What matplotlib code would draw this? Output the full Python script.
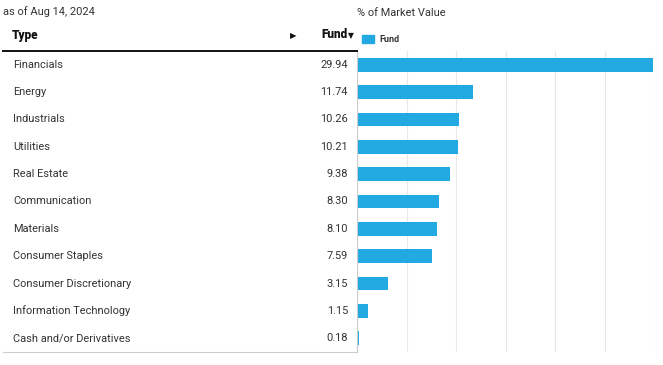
import matplotlib.pyplot as plt
from matplotlib.transforms import blended_transform_factory
from matplotlib.lines import Line2D

# ------------------------------
# Data
# ------------------------------
sectors = ['Financials', 'Energy', 'Industrials', 'Utilities', 'Real Estate',
           'Communication', 'Materials', 'Consumer Staples',
           'Consumer Discretionary', 'Information Technology',
           'Cash and/or Derivatives']
fund = [29.94, 11.74, 10.26, 10.21, 9.38, 8.30, 8.10, 7.59, 3.15, 1.15, 0.18]
xticks = [0, 5, 10, 15, 20, 25, 30]

bar_color = '#22a9e1'
text_color = '#333333'
plt.rcParams['font.family'] = ['Roboto', 'DejaVu Sans']

W, H = 663, 365
fig = plt.figure(figsize=(W / 100, H / 100), dpi=100)

# bar axis placed where the chart sits in the reference
ax = fig.add_axes([357 / W, 13 / H, 297 / W, 301 / H])
ypos = list(range(len(sectors)))
ax.barh(ypos, fund, height=0.5, color=bar_color, zorder=2)
ax.set_xlim(0, 30)
ax.set_ylim(len(sectors) - 0.5, -0.5)
ax.set_xticks(xticks)
ax.set_yticks([])
ax.tick_params(axis='x', length=0, labelbottom=False)
ax.grid(axis='x', color='#e8e8e8', linewidth=0.8, zorder=0)
for s in ['top', 'right', 'bottom']:
    ax.spines[s].set_visible(False)
ax.spines['left'].set_color('#cccccc')
ax.spines['left'].set_linewidth(0.8)

# ------------------------------
# Table text on the left
# ------------------------------
trans = blended_transform_factory(fig.transFigure, ax.transData)
for i, (name, val) in enumerate(zip(sectors, fund)):
    ax.text(13 / W, i, name, transform=trans, ha='left', va='center',
            fontsize=7.9, color=text_color, clip_on=False)
    ax.text(348 / W, i, f'{val:.2f}', transform=trans, ha='right', va='center',
            fontsize=7.9, color=text_color, clip_on=False)

# header
fig.text(3 / W, 1 - 12 / H, 'as of Aug 14, 2024', ha='left', va='center',
         fontsize=7.9, color=text_color)
fig.text(357 / W, 1 - 13 / H, '% of Market Value', ha='left', va='center',
         fontsize=7.9, color=text_color)
fig.text(12 / W, 1 - 35 / H, 'Type', ha='left', va='center',
         fontsize=8.5, fontweight='black', color='#111111')
fig.text(293 / W, 1 - 36 / H, '\u25b6', ha='center', va='center',
         fontsize=6, color='#111111', family=['DejaVu Sans'])
fig.text(347 / W, 1 - 35 / H, 'Fund', ha='right', va='center',
         fontsize=8.5, fontweight='black', color='#111111')
fig.text(351 / W, 1 - 36 / H, '\u25bc', ha='center', va='center',
         fontsize=5.5, color='#111111', family=['DejaVu Sans'])

# legend
fig.patches.append(plt.Rectangle((362 / W, 1 - 43 / H), 12 / W, 8 / H,
                                 transform=fig.transFigure, color=bar_color))
fig.text(379 / W, 1 - 39 / H, 'Fund', ha='left', va='center',
         fontsize=6.5, fontweight='bold', color='#333333')

# table rules
fig.add_artist(Line2D([3 / W, 357 / W], [1 - 50.5 / H, 1 - 50.5 / H],
                      color='#111111', linewidth=1.4))
fig.add_artist(Line2D([3 / W, 357 / W], [1 - 352 / H, 1 - 352 / H],
                      color='#cccccc', linewidth=0.8))

fig.savefig('out.png', dpi=100)
